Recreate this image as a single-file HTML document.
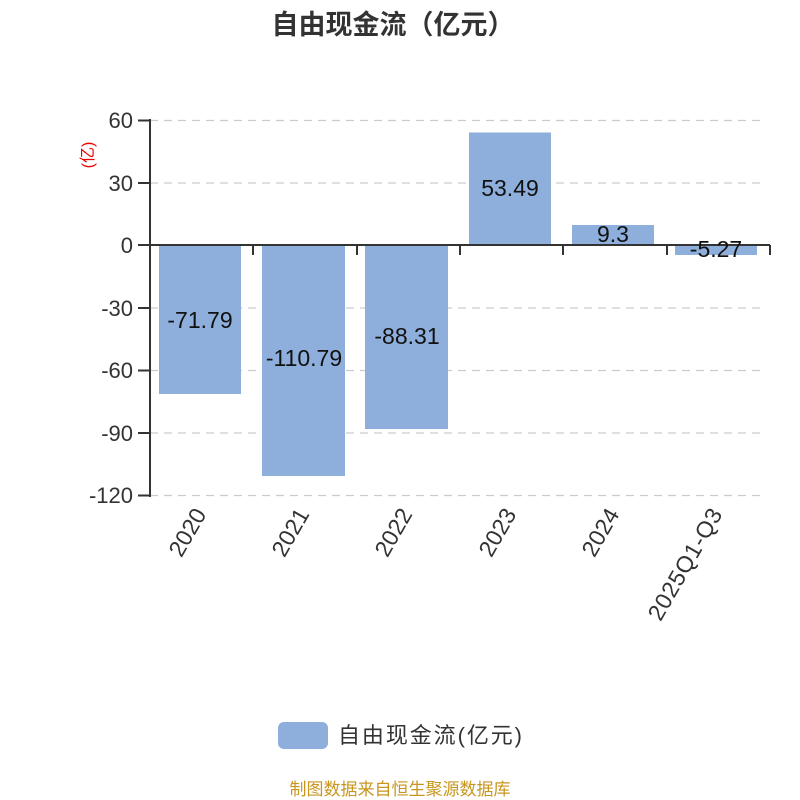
<!DOCTYPE html>
<html><head><meta charset="utf-8"><style>body{margin:0;background:#fff}svg{display:block}</style></head>
<body>
<svg width="800" height="800" xmlns="http://www.w3.org/2000/svg" font-family="'Liberation Sans','Noto Sans CJK SC',sans-serif">
<text x="393" y="34" text-anchor="middle" font-size="27" font-weight="bold" fill="#333">自由现金流（亿元）</text>
<g stroke="#ccc" stroke-width="1.2" stroke-dasharray="8,6">
<line x1="150" y1="120.5" x2="766" y2="120.5"/>
<line x1="150" y1="183" x2="766" y2="183"/>
<line x1="150" y1="308" x2="766" y2="308"/>
<line x1="150" y1="370.5" x2="766" y2="370.5"/>
<line x1="150" y1="433" x2="766" y2="433"/>
<line x1="150" y1="495.5" x2="766" y2="495.5"/>
</g>
<g fill="#8eaedb">
<rect x="159" y="244" width="82" height="150"/>
<rect x="262" y="244" width="83" height="232"/>
<rect x="365" y="244" width="83" height="185"/>
<rect x="469" y="132.5" width="82" height="111.5"/>
<rect x="572" y="225" width="82" height="19"/>
<rect x="675" y="244" width="82" height="11"/>
</g>
<g stroke="#333" stroke-width="2">
<line x1="150" y1="119" x2="150" y2="497"/>
<line x1="138" y1="120.5" x2="150" y2="120.5"/>
<line x1="138" y1="183" x2="150" y2="183"/>
<line x1="138" y1="245" x2="150" y2="245"/>
<line x1="138" y1="308" x2="150" y2="308"/>
<line x1="138" y1="370.5" x2="150" y2="370.5"/>
<line x1="138" y1="433" x2="150" y2="433"/>
<line x1="138" y1="495.5" x2="150" y2="495.5"/>
<line x1="138" y1="245" x2="770" y2="245"/>
<line x1="253" y1="245" x2="253" y2="255"/>
<line x1="357" y1="245" x2="357" y2="255"/>
<line x1="460" y1="245" x2="460" y2="255"/>
<line x1="563" y1="245" x2="563" y2="255"/>
<line x1="667" y1="245" x2="667" y2="255"/>
<line x1="770" y1="245" x2="770" y2="255"/>
</g>
<g font-size="22" fill="#333" text-anchor="end">
<text x="133" y="128">60</text>
<text x="133" y="191">30</text>
<text x="133" y="253">0</text>
<text x="133" y="316">-30</text>
<text x="133" y="378">-60</text>
<text x="133" y="441">-90</text>
<text x="133" y="503">-120</text>
</g>
<text transform="translate(93,155) rotate(-90)" text-anchor="middle" font-size="16" fill="#e00">(亿)</text>
<g font-size="23" fill="#111" text-anchor="middle">
<text x="200" y="328">-71.79</text>
<text x="304" y="366">-110.79</text>
<text x="407" y="344">-88.31</text>
<text x="510" y="196">53.49</text>
<text x="613" y="242">9.3</text>
<text x="716" y="257">-5.27</text>
</g>
<g font-size="23" fill="#333" text-anchor="end">
<text transform="translate(207,514) rotate(-60)">2020</text>
<text transform="translate(310,514) rotate(-60)">2021</text>
<text transform="translate(413,514) rotate(-60)">2022</text>
<text transform="translate(517,514) rotate(-60)">2023</text>
<text transform="translate(620,514) rotate(-60)">2024</text>
<text transform="translate(723,514) rotate(-60)" textLength="125">2025Q1-Q3</text>
</g>
<rect x="278" y="722" width="50" height="27" rx="6" fill="#8eaedb"/>
<text x="338" y="743" font-size="22" fill="#333" textLength="184">自由现金流(亿元)</text>
<text x="400" y="795" text-anchor="middle" font-size="17" fill="#c8961e">制图数据来自恒生聚源数据库</text>
</svg>
</body></html>
